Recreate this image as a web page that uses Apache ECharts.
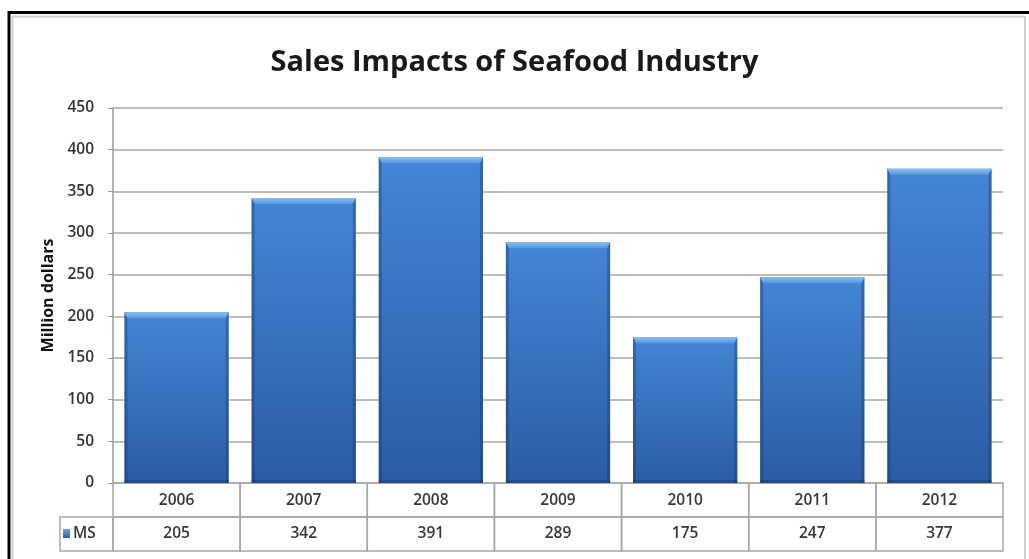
<!DOCTYPE html>
<html>
<head>
<meta charset="utf-8">
<script src="https://cdn.jsdelivr.net/npm/echarts@6/dist/echarts.min.js"></script>
<style>
  html, body { margin: 0; padding: 0; background: #ffffff; }
  #chart { width: 1029px; height: 559px; }
</style>
</head>
<body>
<div id="chart"></div>
<script>
// Sales impacts, million dollars, by year
const years = ['2006', '2007', '2008', '2009', '2010', '2011', '2012'];
const msValues = [205, 342, 391, 289, 175, 247, 377];
const seriesName = 'MS';
const yTicks = [0, 50, 100, 150, 200, 250, 300, 350, 400, 450];

const chart = echarts.init(document.getElementById('chart'));

const FONT = '"Open Sans", "Noto Sans", sans-serif';
const ROW_H = 34;

// Bevelled column: dark sides, light top cap, vertical shading
function renderBar(params, api) {
  const idx = api.value(0);
  const top = api.coord([idx, api.value(1)]);
  const base = api.coord([idx, 0]);
  const bw = api.size([1, 0])[0] * 0.82;
  const x = top[0] - bw / 2;
  const y = top[1];
  const h = base[1] - top[1];
  const cap = 6;
  return {
    type: 'group',
    children: [
      {
        type: 'rect',
        shape: { x: x, y: y, width: bw, height: h },
        style: {
          fill: new echarts.graphic.LinearGradient(0, 0, 0, 1, [
            { offset: 0, color: '#4386d6' },
            { offset: 1, color: '#2b5ca3' }
          ])
        }
      },
      {
        type: 'rect',
        shape: { x: x, y: y, width: 3, height: h },
        style: { fill: 'rgba(20,50,100,0.35)' }
      },
      {
        type: 'rect',
        shape: { x: x + bw - 3, y: y, width: 3, height: h },
        style: { fill: 'rgba(20,50,100,0.35)' }
      },
      {
        type: 'rect',
        shape: { x: x, y: base[1] - 3, width: bw, height: 3 },
        style: { fill: 'rgba(20,45,90,0.35)' }
      },
      {
        type: 'polygon',
        shape: { points: [[x, y], [x + bw, y], [x + bw - 3, y + cap], [x + 3, y + cap]] },
        style: {
          fill: new echarts.graphic.LinearGradient(0, 0, 0, 1, [
            { offset: 0, color: '#8cc0f0' },
            { offset: 1, color: '#5596de' }
          ])
        }
      }
    ]
  };
}

// Data table under the plot: year row and value row
function renderTable(params, api) {
  const idx = api.value(0);
  const base = api.coord([idx, 0]);
  const cw = api.size([1, 0])[0];
  const x0 = base[0] - cw / 2;
  const y0 = base[1];
  const line = { stroke: '#a6a6a6', lineWidth: 1.5, fill: null };
  const txt = { fill: '#383838', fontSize: 15.5, fontFamily: FONT, fontWeight: 600, align: 'center', verticalAlign: 'middle' };
  const children = [
    { type: 'rect', shape: { x: x0, y: y0, width: cw, height: ROW_H }, style: line },
    { type: 'rect', shape: { x: x0, y: y0 + ROW_H, width: cw, height: ROW_H }, style: line },
    { type: 'text', style: Object.assign({ x: base[0], y: y0 + ROW_H / 2 + 1, text: years[idx] }, txt) },
    { type: 'text', style: Object.assign({ x: base[0], y: y0 + ROW_H * 1.5, text: String(api.value(1)) }, txt) }
  ];
  if (idx === 0) {
    const hw = 53;
    children.push(
      { type: 'rect', shape: { x: x0 - hw, y: y0 + ROW_H, width: hw, height: ROW_H }, style: line },
      {
        type: 'rect',
        shape: { x: x0 - hw + 3, y: y0 + ROW_H * 1.5 - 5, width: 7, height: 9 },
        style: {
          fill: new echarts.graphic.LinearGradient(0, 0, 0, 1, [
            { offset: 0, color: '#6aa6e6' },
            { offset: 1, color: '#2b5ea7' }
          ])
        }
      },
      { type: 'text', style: Object.assign({}, txt, { x: x0 - hw + 13, y: y0 + ROW_H * 1.5, text: seriesName, align: 'left' }) }
    );
  }
  return { type: 'group', children: children };
}

const option = {
  backgroundColor: '#ffffff',
  animation: false,
  title: {
    text: 'Sales Impacts of Seafood Industry',
    left: 'center',
    top: 43,
    textStyle: { fontFamily: FONT, fontSize: 29, fontWeight: 'bold', color: '#1a1a1a' }
  },
  grid: { left: 113, right: 26, top: 108, bottom: 76 },
  xAxis: {
    type: 'category',
    data: years,
    axisLine: { show: false },
    axisTick: { show: false },
    axisLabel: { show: false },
    splitLine: { show: false }
  },
  yAxis: {
    type: 'value',
    min: yTicks[0],
    max: yTicks[yTicks.length - 1],
    interval: yTicks[1] - yTicks[0],
    name: 'Million dollars',
    nameLocation: 'middle',
    nameGap: 53,
    nameRotate: 90,
    nameTextStyle: { fontFamily: FONT, fontSize: 16, fontWeight: 'bold', color: '#111111' },
    axisLine: { show: true, lineStyle: { color: '#9a9a9a', width: 1.5 } },
    axisTick: { show: true, length: 5, lineStyle: { color: '#9a9a9a' } },
    axisLabel: { fontFamily: FONT, fontSize: 15.5, fontWeight: 600, color: '#333333', margin: 19 },
    splitLine: { show: true, lineStyle: { color: '#a8a8a8', width: 1.5 } }
  },
  series: [
    {
      type: 'custom',
      name: seriesName,
      renderItem: renderBar,
      data: msValues.map((v, i) => [i, v]),
      encode: { x: 0, y: 1 },
      z: 3
    },
    {
      type: 'custom',
      name: 'table',
      renderItem: renderTable,
      data: msValues.map((v, i) => [i, v]),
      encode: { x: 0, y: 1 },
      clip: false,
      silent: true,
      z: 2
    }
  ],
  graphic: [
    { type: 'line', shape: { x1: 12, y1: 16.5, x2: 1025, y2: 16.5 }, style: { stroke: '#cfcfcf', lineWidth: 2 } },
    { type: 'line', shape: { x1: 12.5, y1: 16, x2: 12.5, y2: 559 }, style: { stroke: '#cfcfcf', lineWidth: 2 } },
    { type: 'line', shape: { x1: 1025, y1: 16, x2: 1025, y2: 559 }, style: { stroke: '#cfcfcf', lineWidth: 2 } },
    { type: 'line', shape: { x1: 8, y1: 12.5, x2: 1029, y2: 12.5 }, style: { stroke: '#000000', lineWidth: 3 } },
    { type: 'line', shape: { x1: 9, y1: 11, x2: 9, y2: 559 }, style: { stroke: '#000000', lineWidth: 3 } }
  ]
};

chart.setOption(option);
</script>
</body>
</html>
